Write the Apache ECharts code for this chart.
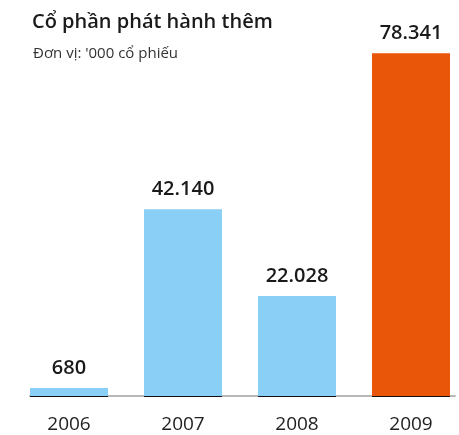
<!DOCTYPE html>
<html>
<head>
<meta charset="utf-8">
<script src="https://cdn.jsdelivr.net/npm/echarts@6/dist/echarts.min.js"></script>
<style>html,body{margin:0;padding:0;background:#fff}#c{width:459px;height:435px}</style>
</head>
<body>
<div id="c"></div>
<script>
const years = ['2006', '2007', '2008', '2009'];
const shares = [680, 42140, 22028, 78341];
const shareLabels = ['680', '42.140', '22.028', '78.341'];
const barColors = ['#89CFF6', '#89CFF6', '#89CFF6', '#E9560A'];
const titleText = 'Cổ phần phát hành thêm';
const subtitleText = "Đơn vị: '000 cổ phiếu";

const Y_MIN = -1200, Y_MAX = 80000;
const BAR_W = 78;
const chart = echarts.init(document.getElementById('c'), null, {renderer: 'canvas'});
chart.setOption({
  animation: false,
  backgroundColor: '#fff',
  textStyle: {fontFamily: 'Open Sans'},
  title: [
    {text: titleText, left: 27, top: 7, textStyle: {fontSize: 20, fontWeight: 600, color: '#1a1a1a', fontFamily: 'Open Sans'}},
    {text: subtitleText, left: 28, top: 41, textStyle: {fontSize: 15, fontWeight: 'normal', color: '#333', fontFamily: 'Open Sans'}}
  ],
  grid: [
    {left: 12, width: 456, top: 46, bottom: 39, outerBoundsMode: 'none', containLabel: false},
    {left: 30, width: 425, top: 46, bottom: 39, outerBoundsMode: 'none', containLabel: false}
  ],
  xAxis: [
    {type: 'category', gridIndex: 0, data: years,
     axisLine: {show: false}, axisTick: {show: false},
     axisLabel: {fontSize: 19, color: '#222', margin: 19, fontFamily: 'Open Sans'}},
    {type: 'category', gridIndex: 1, data: years,
     axisLine: {show: true, onZero: false, lineStyle: {color: '#b8b8b8', width: 2}},
     axisTick: {show: false}, axisLabel: {show: false}}
  ],
  yAxis: [
    {type: 'value', gridIndex: 0, min: Y_MIN, max: Y_MAX, show: false, splitLine: {show: false}},
    {type: 'value', gridIndex: 1, min: Y_MIN, max: Y_MAX, show: false, splitLine: {show: false}}
  ],
  series: [{
    type: 'custom',
    xAxisIndex: 0, yAxisIndex: 0,
    z: 5,
    data: shares.map((v, i) => [i, v]),
    renderItem: function (params, api) {
      const i = params.dataIndex;
      const top = api.coord([api.value(0), api.value(1)]);
      const base = api.coord([api.value(0), Y_MIN]);
      const x0 = top[0] - BAR_W / 2;
      const yb = Math.round(base[1]);
      return {
        type: 'group',
        children: [
          {type: 'rect', shape: {x: x0, y: top[1], width: BAR_W, height: yb - top[1]},
           style: {fill: barColors[i]}},
          {type: 'line', shape: {x1: x0, y1: yb + 0.5, x2: x0 + BAR_W, y2: yb + 0.5},
           style: {stroke: '#111', lineWidth: 1}, z2: 2},
          {type: 'text', x: top[0], y: top[1] - 10,
           style: {text: shareLabels[i], textAlign: 'center', textVerticalAlign: 'bottom',
                   fontSize: 20, fontWeight: 600, fill: '#1a1a1a', fontFamily: 'Open Sans'}}
        ]
      };
    }
  }]
});
</script>
</body>
</html>
